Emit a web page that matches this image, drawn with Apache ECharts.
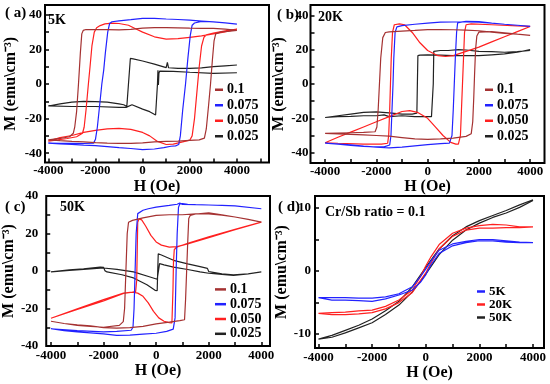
<!DOCTYPE html>
<html><head><meta charset="utf-8">
<script src="https://cdn.jsdelivr.net/npm/echarts@6/dist/echarts.min.js"></script>
<style>html,body{margin:0;padding:0;background:#fff}#c{width:550px;height:384px}</style>
</head><body><div id="c"></div>
<script>
// ---------- tick / label values ----------
const xTicksA = [-4000,-3000,-2000,-1000,0,1000,2000,3000,4000,5000];
const xTicks = [-4000,-3000,-2000,-1000,0,1000,2000,3000,4000];
const xLabels = [-4000,-2000,0,2000,4000];
const yTicks40 = [-40,-30,-20,-10,0,10,20,30,40];
const yLabels40 = [-40,-20,0,20,40];
const yTicksD = [-10,-5,0,5,10];
const yLabelsD = [-10,0,10];
const ratioNames = ['0.1','0.075','0.050','0.025'];
const tempNames = ['5K','20K','50K'];

// ---------- panel (a) 5K : loops [H, M] (descending then ascending) ----------
const a_01 = [[4000,31],[3500,31.8],[3000,32.2],[2500,32.2],[2000,32.3],[1500,32.5],[1000,32.6],[500,32.6],[0,32.3],[-500,31.6],[-1000,31.3],[-1500,31.4],[-2000,31.5],[-2400,31.5],[-2520,31],[-2580,29],[-2640,18],[-2720,0],[-2800,-16],[-2880,-25],[-2940,-28.5],[-3100,-30.5],[-3500,-31.5],[-4000,-32.3],
  [-3500,-32.8],[-3000,-33.2],[-2500,-33.5],[-2000,-33.9],[-1500,-34.2],[-1000,-34.3],[-500,-34.3],[0,-34],[500,-33.5],[1000,-33.2],[1500,-33],[2000,-32.6],[2400,-32.3],[2620,-31.3],[2700,-26],[2800,-12],[2880,0],[2960,14],[3030,25],[3100,29],[3300,30],[3600,30.5],[4000,31]];
const a_075 = [[4000,34.6],[3500,35.4],[3000,35.9],[2500,36.4],[2000,36.9],[1500,37.3],[1000,37.6],[500,38],[0,38],[-500,37.2],[-1000,36.5],[-1300,36],[-1400,35],[-1480,30],[-1580,18],[-1650,8],[-1730,0],[-1820,-12],[-1920,-25],[-2000,-32],[-2080,-34.2],[-2500,-34.4],[-3000,-34.3],[-3500,-34.3],[-4000,-34.2],
  [-3500,-34.6],[-3000,-34.9],[-2500,-35.3],[-2000,-35.6],[-1500,-36.2],[-1000,-36.8],[-500,-37.3],[0,-37.9],[500,-37.6],[900,-36.8],[1200,-36],[1400,-35.8],[1530,-35],[1600,-30],[1700,-15],[1820,0],[1920,15],[2020,28],[2100,34],[2200,35.3],[2500,36.2],[3000,36],[3500,35.4],[4000,34.6]];
const a_050 = [[4000,31.7],[3500,30.2],[3000,29],[2500,27.8],[2000,27],[1500,26.2],[1000,26],[500,27.3],[0,30],[-300,32],[-600,34],[-1000,35],[-1300,35.2],[-1600,34.8],[-1800,33.8],[-1950,32.5],[-2050,30],[-2150,22],[-2230,10],[-2300,0],[-2400,-15],[-2480,-25],[-2550,-28.5],[-2800,-30.5],[-3200,-31.5],[-3600,-32.3],[-4000,-33],
  [-3500,-31],[-3000,-29.8],[-2500,-28],[-2000,-26.8],[-1500,-26],[-1000,-25.7],[-500,-26.2],[0,-28],[300,-30],[600,-33],[1000,-35],[1300,-34.8],[1700,-33.5],[2000,-32.5],[2100,-30],[2200,-20],[2300,-5],[2400,10],[2500,22],[2600,27],[2700,28.5],[3000,29.5],[3500,30.8],[4000,31.7]];
const a_025 = [[4000,11],[3500,10.5],[3000,10],[2500,9.3],[2000,9],[1500,9],[1100,9.4],[1050,12.5],[1000,9.5],[500,11.5],[0,13.3],[-400,14.5],[-520,14.8],[-600,0],[-670,-13],[-800,-12],[-1000,-11.5],[-1500,-10.5],[-2000,-10.2],[-2500,-10],[-3000,-10.5],[-3500,-11.5],[-4000,-12.7],
  [-3000,-13],[-2000,-13],[-1000,-13.5],[-700,-13.5],[-450,-12],[0,-14.5],[300,-16],[550,-17.9],[600,-17],[630,0],[650,8],[670,-0.5],[690,6],[720,7.5],[800,7.6],[1300,7.3],[2000,6.8],[3000,6.2],[4000,6.5]];

// ---------- panel (b) 20K ----------
const b_01 = [[4000,28.3],[3500,29],[3000,29.5],[2500,30.2],[2000,31],[1500,31.4],[1000,31.6],[500,31.7],[0,31.7],[-500,31.2],[-1000,30.8],[-1500,30.4],[-1650,30],[-1750,27],[-1830,15],[-1880,0],[-1930,-15],[-1980,-25],[-2050,-27.8],[-2500,-28.2],[-3000,-28.4],[-3500,-28.6],[-4000,-28.8],
  [-3000,-29.3],[-2500,-29.6],[-2000,-30],[-1500,-30.4],[-1000,-31.2],[-500,-32],[0,-32.3],[500,-32],[1000,-31.5],[1500,-30.5],[1700,-29],[1760,-22],[1800,-8],[1830,5],[1870,20],[1920,28],[2000,30.2],[2500,30.5],[3000,29.8],[3500,29],[4000,28.3]];
const b_075 = [[4000,33.6],[3500,34.2],[3000,34.8],[2500,35.4],[2000,36],[1500,36.2],[1000,36.1],[500,36],[0,35.4],[-500,34.8],[-1000,34],[-1200,33.3],[-1270,30],[-1320,15],[-1350,0],[-1390,-15],[-1430,-30],[-1480,-35.5],[-1700,-36.6],[-2000,-36.6],[-2500,-36.3],[-3000,-35.7],[-3500,-35],[-4000,-34.4],
  [-3000,-35.5],[-2500,-36.2],[-2000,-36.8],[-1500,-37.2],[-1000,-36.8],[-500,-36],[0,-35.3],[500,-34.7],[850,-34.4],[950,-30],[1000,-15],[1040,0],[1080,15],[1130,30],[1170,35.5],[1300,36],[1500,36.5],[2000,36.3],[2500,35.5],[3000,34.8],[3500,34.2],[4000,33.6]];
const b_050 = [[4000,33.5],[3500,30.5],[3000,27.5],[2500,24.5],[2000,21.5],[1500,19],[1000,16.5],[700,16],[400,16.5],[0,19.5],[-300,24],[-600,30],[-900,34.5],[-1100,35],[-1300,34.5],[-1370,30],[-1420,15],[-1450,0],[-1480,-15],[-1520,-30],[-1560,-34.5],[-1800,-35],[-2500,-35],[-3500,-34.5],[-4000,-34.2],
  [-3500,-31],[-3000,-28],[-2500,-25],[-2000,-22],[-1500,-19],[-1000,-16],[-700,-15.5],[-400,-16.5],[0,-20],[300,-25],[600,-30],[900,-34],[1100,-35],[1200,-35],[1280,-30],[1320,-15],[1360,0],[1400,15],[1440,30],[1500,34.5],[1700,35],[2500,34.5],[3500,33.8],[4000,33.5]];
const b_025 = [[4000,20],[3500,18.5],[3000,17.5],[2500,17],[2000,16.5],[1500,16.5],[1000,16.5],[500,16.8],[0,17],[-300,16.8],[-380,16.5],[-400,0],[-420,-17],[-600,-17.5],[-1000,-17.5],[-1500,-16.8],[-2000,-16.2],[-2500,-16.5],[-3000,-17.5],[-3500,-18.5],[-4000,-19.5],
  [-3500,-19],[-3000,-18.8],[-2500,-18.5],[-2000,-18.5],[-1700,-18],[-1500,-19],[-1000,-18.5],[-500,-19],[0,-19],[150,-19],[200,-18.8],[220,0],[240,19],[500,19.5],[800,19.5],[1200,20],[1500,19.8],[2000,19],[2500,18.8],[3000,18.5],[3500,18.8],[4000,19.5]];

// ---------- panel (c) 50K ----------
const c_01 = [[4000,26.1],[3500,27.5],[3000,28.8],[2500,29.8],[2000,30.5],[1500,30.5],[1000,30],[500,30],[0,29.7],[-500,28.3],[-900,27],[-1050,26],[-1100,20],[-1150,0],[-1200,-20],[-1250,-27],[-1400,-29],[-2000,-30],[-2500,-29.5],[-3000,-29],[-3500,-28],[-4000,-26.8],
  [-3500,-28],[-3000,-28.7],[-2500,-29.3],[-2000,-30.2],[-1500,-30.5],[-1000,-30.2],[-500,-29.5],[0,-28.2],[500,-27.3],[900,-26.5],[1080,-26],[1120,-15],[1160,0],[1200,15],[1240,28],[1300,29.7],[1500,30.4],[2000,31],[2500,30],[3000,28.8],[3500,27.5],[4000,26.1]];
const c_075 = [[4000,33.2],[3500,34],[3000,34.7],[2500,35],[2000,35.2],[1500,35.4],[1000,35.5],[900,36.3],[800,35.6],[500,35],[0,34.1],[-300,33.2],[-500,32.4],[-700,30.6],[-760,20],[-800,0],[-840,-20],[-880,-30],[-950,-31.6],[-1500,-32.2],[-2000,-32.5],[-3000,-31.8],[-4000,-30.8],
  [-3500,-31.8],[-3000,-32.5],[-2500,-33],[-2000,-33.5],[-1500,-34.3],[-1000,-34.2],[-500,-33.7],[0,-33.2],[400,-32.2],[650,-31],[720,-25],[760,0],[800,20],[850,34],[900,35.8],[1000,36],[1200,35.6],[1500,35.4],[2000,35.2],[3000,34.7],[4000,33.2]];
const c_050 = [[4000,26.1],[3000,22],[2000,17.8],[1200,14.5],[800,13],[500,12.7],[200,13.8],[0,15.5],[-200,19],[-400,24],[-550,27.3],[-650,27.8],[-700,26],[-720,10],[-740,-5],[-780,-11],[-900,-11.3],[-1240,-11.8],[-2000,-15.3],[-3000,-20.2],[-4000,-25.2],
  [-3000,-20.5],[-2000,-16],[-1240,-12],[-900,-11.3],[-700,-11.8],[-500,-13.5],[-300,-17],[-100,-21.5],[100,-25],[300,-26.8],[500,-27.5],[600,-27.7],[640,-10],[660,5],[690,11.5],[800,12.8],[1200,14.7],[2000,18.2],[3000,22.2],[4000,26.1]];
const c_025 = [[4000,-0.5],[3500,-1.5],[2940,-2.3],[2500,-1.8],[2000,-1.2],[1670,-0.5],[1200,0.8],[660,2.1],[300,3.3],[130,3.9],[60,3.5],[40,-4.4],[0,-4.4],[-230,-3.2],[-860,-0.5],[-1490,0.9],[-2000,1.6],[-2760,0.9],[-3300,0.3],[-4000,-0.5],
  [-3300,0.6],[-2760,1.2],[-2130,2.1],[-2000,2],[-1950,0.2],[-1870,-0.5],[-1300,-2],[-860,-3.7],[-350,-7.3],[-40,-10.3],[40,-10.5],[60,0],[80,9.2],[200,8.5],[660,5.7],[1200,3.8],[1670,2.3],[1950,1.4],[2000,-0.3],[2500,-1.5],[2940,-2.1],[3500,-1.5],[4000,-0.5]];

// ---------- panel (d) Cr/Sb = 0.1 ----------
const d_5K = [[4000,4.5],[3500,4.6],[3000,4.8],[2500,5],[2000,5],[1500,4.7],[1000,4.3],[500,3.3],[200,1.6],[0,0.3],[-200,-0.9],[-500,-2.5],[-1000,-3.6],[-1500,-4.1],[-2000,-4.3],[-2500,-4.3],[-3000,-4.2],[-3500,-4.2],[-4000,-4.2],
  [-3500,-4.6],[-3000,-4.6],[-2500,-4.7],[-2000,-4.8],[-1500,-4.4],[-1000,-3.8],[-500,-3],[-200,-1.8],[0,-0.6],[200,1.0],[500,2.8],[1000,4.0],[1500,4.5],[2000,4.8],[2500,4.8],[3000,4.6],[3500,4.5],[4000,4.5]];
const d_20K = [[4000,7],[3500,7],[3000,7.3],[2500,7.4],[2000,7.2],[1500,6.8],[1000,6],[500,4.2],[200,2.3],[0,0.8],[-200,-0.9],[-500,-3],[-1000,-4.6],[-1500,-5.6],[-2000,-6.2],[-2500,-6.3],[-3000,-6.5],[-3500,-6.6],[-4000,-6.7],
  [-3500,-6.9],[-3000,-6.9],[-2500,-6.8],[-2000,-6.6],[-1500,-6],[-1000,-5],[-500,-3.4],[-200,-1.5],[0,-0.3],[200,1.3],[500,3.5],[1000,5.5],[1500,6.5],[2000,6.8],[2500,6.8],[3000,6.9],[3500,6.9],[4000,7]];
const d_50K = [[4000,11.3],[3500,10.5],[3000,9.6],[2500,8.8],[2000,8.0],[1500,7],[1000,5.6],[500,3.5],[0,0.6],[-500,-2.5],[-1000,-4.8],[-1500,-6.3],[-2000,-7.6],[-2500,-8.6],[-3000,-9.4],[-3500,-10.2],[-4000,-10.8],
  [-4000,-11.1],[-3500,-10.5],[-3000,-9.8],[-2500,-9],[-2000,-8.2],[-1500,-6.9],[-1000,-5.4],[-500,-3.3],[0,-0.5],[500,2.6],[1000,4.9],[1500,6.5],[2000,7.6],[2500,8.5],[3000,9.2],[3500,10.1],[4000,11.2]];

// ---------- styling ----------
const FONT = '"Liberation Serif","Times New Roman",serif';
const COLORS = {'0.1':'#a53232','0.075':'#2222ff','0.050':'#ff2020','0.025':'#222222','5K':'#2222ff','20K':'#ff2020','50K':'#222222'};

const grids = [
  {left:45, top:5, width:224, height:157.5},
  {left:310.5, top:5, width:234, height:158},
  {left:46, top:196, width:224, height:150},
  {left:315, top:196, width:229, height:152}
].map(g => Object.assign(g, {show:true, borderColor:'#000', borderWidth:2, backgroundColor:'transparent'}));

function xAx(gi, min, max, ticks, nameGap, margin) {
  return {type:'value', gridIndex:gi, min, max, position:'bottom', name:'H (Oe)', nameLocation:'middle', nameGap,
    nameTextStyle:{fontFamily:FONT, fontWeight:'bold', fontSize:16, color:'#000'},
    axisLine:{show:false, onZero:false}, splitLine:{show:false},
    axisTick:{show:true, inside:true, length:4, lineStyle:{color:'#000', width:1.5}, customValues:ticks},
    axisLabel:{customValues:xLabels, margin, fontFamily:FONT, fontWeight:'bold', fontSize:13, color:'#000', formatter:v=>String(v)}};
}
function yAx(gi, min, max, ticks, labels, nameGap, margin) {
  return {type:'value', gridIndex:gi, min, max, position:'left', name:'M (emu\\cm\u207B\u00B3)', nameLocation:'middle', nameGap,
    nameTextStyle:{fontFamily:FONT, fontWeight:'bold', fontSize:16, color:'#000'},
    axisLine:{show:false, onZero:false}, splitLine:{show:false},
    axisTick:{show:true, inside:true, length:4, lineStyle:{color:'#000', width:1.5}, customValues:ticks},
    axisLabel:{customValues:labels, margin, fontFamily:FONT, fontWeight:'bold', fontSize:13, color:'#000', formatter:v=>String(v)}};
}

const xAxes = [
  xAx(0, -4140, 5360, xTicksA, 9, 2),
  xAx(1, -4570, 4560, xTicks, 9, 2),
  xAx(2, -4180, 4330, xTicks, 16, 3),
  xAx(3, -4130, 4410, xTicks, 17, 3)
];
const yAxes = [
  yAx(0, -45.4, 45.7, yTicks40, yLabels40, 26, 3),
  yAx(1, -46, 46, yTicks40, yLabels40, 16, 2),
  yAx(2, -40, 40, yTicks40, yLabels40, 27, 8),
  yAx(3, -12.2, 11.9, yTicksD, yLabelsD, 21, 4)
];

const panels = [
  [a_01, a_075, a_050, a_025],
  [b_01, b_075, b_050, b_025],
  [c_01, c_075, c_050, c_025]
];
const series = [];
panels.forEach((arrs, gi) => {
  arrs.forEach((d, k) => {
    const nm = ratioNames[k];
    series.push({type:'line', name:nm, xAxisIndex:gi, yAxisIndex:gi, data:d, showSymbol:false, symbol:'none',
      lineStyle:{width:1.2, color:COLORS[nm]}, itemStyle:{color:COLORS[nm]}, z:10-k});
  });
});
[d_5K, d_20K, d_50K].forEach((d, k) => {
  const nm = tempNames[k];
  series.push({type:'line', name:nm, xAxisIndex:3, yAxisIndex:3, data:d, showSymbol:false, symbol:'none',
    lineStyle:{width:1.2, color:COLORS[nm]}, itemStyle:{color:COLORS[nm]}, z:10-k});
});

function leg(left, top, names, iw, lh, fs) {
  return {left, top, orient:'vertical', icon:'rect', itemWidth:iw, itemHeight:2.5, itemGap:0, padding:0,
    selectedMode:false, data:names,
    textStyle:{fontFamily:FONT, fontWeight:'bold', fontSize:fs, color:'#000', lineHeight:lh, padding:[0,0,0,-1]}};
}

function txt(x, y, s, fs) {
  return {type:'text', x, y, style:{text:s, font:'bold '+fs+'px '+FONT, fill:'#000', align:'left', verticalAlign:'middle'}};
}

const chart = echarts.init(document.getElementById('c'), null, {renderer:'canvas'});
chart.setOption({
  animation:false,
  backgroundColor:'#fff',
  grid:grids,
  xAxis:xAxes,
  yAxis:yAxes,
  legend:[
    leg(215, 82, ratioNames, 8, 15.5, 14),
    leg(485, 82, ratioNames, 8, 15.5, 14),
    leg(215, 282, ratioNames, 11, 14.8, 14),
    leg(477, 285, tempNames, 8, 11.5, 13)
  ],
  graphic:[
    txt(5, 13.5, '( a)', 15), txt(277, 15, '( b)', 15), txt(5, 207, '( c)', 15), txt(278, 207, '( d)', 15),
    txt(48, 20, '5K', 14), txt(318, 17, '20K', 14), txt(60, 207, '50K', 14),
    txt(325, 212, 'Cr/Sb ratio = 0.1', 14)
  ],
  series
});
</script></body></html>
